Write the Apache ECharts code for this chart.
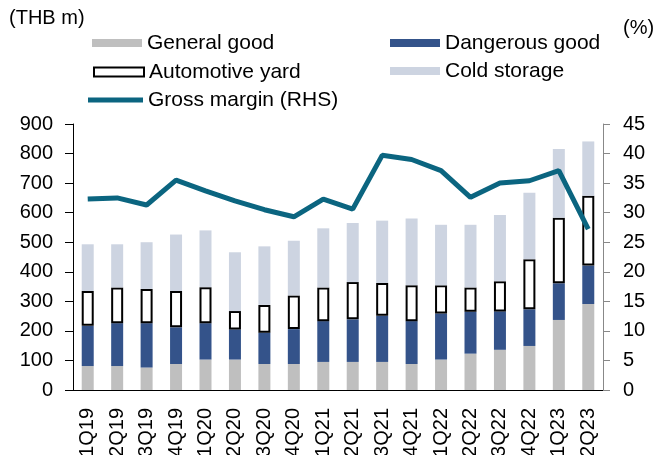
<!DOCTYPE html>
<html>
<head>
<meta charset="utf-8">
<script src="https://cdn.jsdelivr.net/npm/echarts@6/dist/echarts.min.js"></script>
<style>
html,body{margin:0;padding:0;background:#fff;}
#chart{width:658px;height:455px;}
</style>
</head>
<body>
<div id="chart"></div>
<script>
const categories = ['1Q19','2Q19','3Q19','4Q19','1Q20','2Q20','3Q20','4Q20','1Q21','2Q21','3Q21','4Q21','1Q22','2Q22','3Q22','4Q22','1Q23','2Q23'];
const generalGood   = [81, 81, 76, 88, 103, 103, 88, 88, 95, 95, 95, 88, 103, 123, 136, 149, 237, 291];
const dangerousGood = [136, 145, 150, 124, 123, 102, 106, 118, 138, 144, 156, 145, 156, 142, 130, 124, 124, 130];
const automotiveYard = [118, 121, 116, 123, 122, 62, 94, 114, 114, 126, 111, 121, 95, 82, 102, 169, 222, 236];
const coldStorage   = [158, 146, 158, 191, 192, 199, 198, 185, 200, 200, 211, 226, 205, 212, 224, 225, 232, 184];
const grossMargin   = [32.3, 32.5, 31.3, 35.5, 33.7, 32.0, 30.5, 29.3, 32.3, 30.6, 39.7, 39.0, 37.1, 32.6, 35.0, 35.4, 37.1, 27.2];
const leftTicks = {min: 0, max: 900, interval: 100};
const rightTicks = {min: 0, max: 45, interval: 5};

const FONT = '"Liberation Sans", Arial, sans-serif';
const chart = echarts.init(document.getElementById('chart'), null, {renderer: 'canvas'});

function leg(name, left, centerY, extra) {
  return Object.assign({
    data: [name],
    left: left,
    top: centerY - 11,
    padding: 0,
    itemWidth: 50,
    itemHeight: 8,
    icon: 'rect',
    selectedMode: false,
    textStyle: {fontFamily: FONT, fontSize: 21, color: '#000', lineHeight: 22}
  }, extra || {});
}

chart.setOption({
  animation: false,
  textStyle: {fontFamily: FONT},
  grid: {left: 73, right: 55, top: 124, bottom: 65, containLabel: false, outerBoundsMode: 'none'},
  legend: [
    leg('General good', 92, 43),
    leg('Dangerous good', 390, 43),
    leg('Automotive yard', 93, 72, {itemHeight: 9, itemStyle: {color: '#fff', borderColor: '#000', borderWidth: 2}}),
    leg('Cold storage', 390, 71),
    leg('Gross margin (RHS)', 88, 100, {itemWidth: 55, itemHeight: 5, itemStyle: {color: '#0b6580'}, lineStyle: {opacity: 0}})
  ],
  graphic: [
    {type: 'text', left: 9, top: 8, style: {text: '(THB m)', fontFamily: FONT, fontSize: 20, fill: '#000'}},
    {type: 'text', left: 623, top: 18, style: {text: '(%)', fontFamily: FONT, fontSize: 20, fill: '#000'}}
  ],
  xAxis: {
    type: 'category',
    data: categories,
    axisLine: {lineStyle: {color: '#000', width: 1}},
    axisTick: {length: 8, lineStyle: {color: '#000'}},
    axisLabel: {rotate: 90, fontSize: 20, color: '#000', margin: 18, fontFamily: FONT, interval: 0}
  },
  yAxis: [
    {
      type: 'value', min: leftTicks.min, max: leftTicks.max, interval: leftTicks.interval,
      splitLine: {show: false},
      axisLine: {show: true, lineStyle: {color: '#000'}},
      axisTick: {show: true, length: 8, lineStyle: {color: '#000'}},
      axisLabel: {fontSize: 20, color: '#000', margin: 20, fontFamily: FONT}
    },
    {
      type: 'value', min: rightTicks.min, max: rightTicks.max, interval: rightTicks.interval,
      position: 'right',
      splitLine: {show: false},
      axisLine: {show: true, lineStyle: {color: '#888'}},
      axisTick: {show: true, length: 7, lineStyle: {color: '#888'}},
      axisLabel: {fontSize: 20, color: '#000', margin: 20, fontFamily: FONT}
    }
  ],
  series: [
    {name: 'General good', type: 'bar', stack: 'a', data: generalGood, barWidth: 12, itemStyle: {color: '#bfbfbf'}},
    {name: 'Dangerous good', type: 'bar', stack: 'a', data: dangerousGood, barWidth: 12, itemStyle: {color: '#34538a'}},
    {name: 'Automotive yard', type: 'bar', stack: 'a', data: automotiveYard, barWidth: 12, itemStyle: {color: '#fff', borderColor: '#000', borderWidth: 2}},
    {name: 'Cold storage', type: 'bar', stack: 'a', data: coldStorage, barWidth: 12, itemStyle: {color: '#cdd4e1'}},
    {name: 'Gross margin (RHS)', type: 'line', yAxisIndex: 1, data: grossMargin, showSymbol: false, symbol: 'none',
     lineStyle: {color: '#0b6580', width: 5}, itemStyle: {color: '#0b6580'}, z: 5}
  ]
});
</script>
</body>
</html>
